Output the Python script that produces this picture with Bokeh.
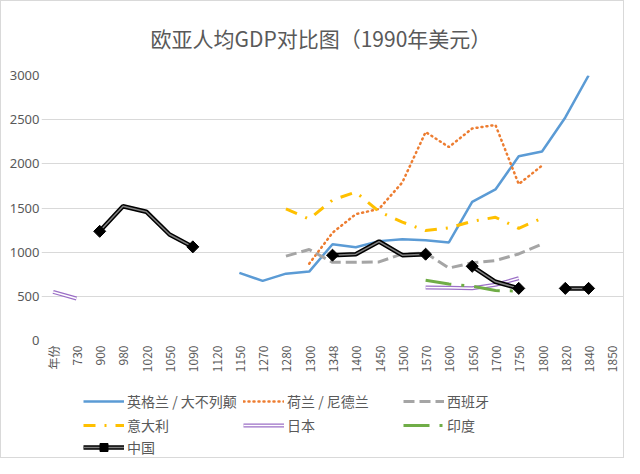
import math
from bokeh.plotting import figure
from bokeh.layouts import column
from bokeh.models import (ColumnDataSource, Legend, LegendItem, FixedTicker,
                          Range1d, FactorRange)
from bokeh.embed import file_html
from bokeh.resources import INLINE

nan = float("nan")

years = ["年份", "730", "900", "980", "1020", "1050", "1090", "1120", "1150",
         "1270", "1280", "1300", "1348", "1400", "1450", "1500", "1570",
         "1600", "1650", "1700", "1750", "1800", "1820", "1840", "1850"]

uk = [nan, nan, nan, nan, nan, nan, nan, nan, 765, 675, 757, 780, 1090, 1055,
      1125, 1145, 1135, 1110, 1570, 1710, 2085, 2140, 2525, 3000, nan]
netherlands = [nan, nan, nan, nan, nan, nan, nan, nan, nan, nan, nan, 870, 1220,
               1430, 1490, 1790, 2360, 2190, 2400, 2440, 1770, 1980, nan, nan, nan]
spain = [nan, nan, nan, nan, nan, nan, nan, nan, nan, nan, 955, 1030, 885, 885,
         890, 980, 990, 820, 880, 905, 980, 1090, nan, nan, nan]
italy = [nan, nan, nan, nan, nan, nan, nan, nan, nan, nan, 1490, 1375, 1590, 1680,
         1460, 1340, 1245, 1275, 1350, 1395, 1270, 1385, nan, nan, nan]
japan = [550, 476, nan, nan, nan, nan, nan, nan, nan, nan, nan, nan, nan, nan,
         nan, nan, 600, 598, 592, 630, 705, nan, nan, nan, nan]
india = [nan, nan, nan, nan, nan, nan, nan, nan, nan, nan, nan, nan, nan, nan,
         nan, nan, 683, 640, 615, 565, 560, nan, nan, nan, nan]
china = [nan, nan, 1236, 1520, 1458, 1200, 1060, nan, nan, nan, nan, nan, 966,
         977, 1120, 966, 977, nan, 840, 665, 590, nan, 590, 590, nan]

y_ticks = [0, 500, 1000, 1500, 2000, 2500, 3000]

names = ["英格兰 / 大不列颠", "荷兰 / 尼德兰", "西班牙", "意大利", "日本", "印度", "中国"]

TXT = "#595959"
CJK = "Noto Sans CJK SC"

STYLES = {
    "uk": dict(line_color="#5b9bd5", line_width=2.5),
    "nl": dict(line_color="#ed7d31", line_width=2.5, line_dash="1 4", line_cap="round"),
    "es": dict(line_color="#a5a5a5", line_width=3, line_dash="11 5"),
    "it": dict(line_color="#ffc000", line_width=3, line_dash="12 9 2 9"),
    "jp1": dict(line_color="#9b6fc6", line_width=4),
    "jp2": dict(line_color="white", line_width=1.5),
    "ind": dict(line_color="#70ad47", line_width=3, line_dash="26 10 3 10"),
    "cn1": dict(line_color="black", line_width=4.5),
    "cn2": dict(line_color="#808080", line_width=1.5),
}
MARK = dict(marker="square", angle=math.pi / 4, size=8.5,
            fill_color="black", line_color="black")

src = ColumnDataSource(dict(x=years, uk=uk, nl=netherlands, es=spain, it=italy,
                            jp=japan, ind=india, cn=china))

p = figure(x_range=FactorRange(*years), y_range=Range1d(0, 3000),
           width=622, height=374, output_backend="svg", toolbar_location=None,
           title="欧亚人均GDP对比图（1990年美元）",
           min_border_top=68, min_border_right=0, min_border_left=40,
           min_border_bottom=35)

p.title.align = "left"
p.title.offset = 109
p.title.vertical_align = "top"
p.title.standoff = 42
p.title.text_font = CJK
p.title.text_font_size = "21px"
p.title.text_font_style = "normal"
p.title.text_color = TXT

p.outline_line_color = None
p.xgrid.grid_line_color = None
p.ygrid.grid_line_color = "#d9d9d9"
p.ygrid.grid_line_width = 1

p.yaxis.ticker = FixedTicker(ticks=y_ticks)
for ax in (p.xaxis[0], p.yaxis[0]):
    ax.axis_line_color = None
    ax.major_tick_line_color = None
    ax.minor_tick_line_color = None
    ax.major_tick_out = 0
    ax.major_tick_in = 0
    ax.minor_tick_out = 0
    ax.major_label_text_color = TXT
p.yaxis.major_label_text_font_size = "13px"
p.yaxis.major_label_text_font = "Noto Sans"
p.yaxis.major_label_standoff = 2
p.xaxis.major_label_text_font_size = "12px"
p.xaxis.major_label_text_font = CJK
p.xaxis.major_label_orientation = math.pi / 2
p.xaxis.major_label_standoff = 5

p.line("x", "uk", source=src, **STYLES["uk"])
p.line("x", "nl", source=src, **STYLES["nl"])
p.line("x", "es", source=src, **STYLES["es"])
p.line("x", "it", source=src, **STYLES["it"])
p.line("x", "jp", source=src, **STYLES["jp1"])
p.line("x", "jp", source=src, **STYLES["jp2"])
p.line("x", "ind", source=src, **STYLES["ind"])
p.line("x", "cn", source=src, **STYLES["cn1"])
p.line("x", "cn", source=src, **STYLES["cn2"])

# China markers at the ends of each continuous run
ends_x, ends_y = [], []
for i, v in enumerate(china):
    if math.isnan(v):
        continue
    prev_gap = i == 0 or math.isnan(china[i - 1])
    next_gap = i == len(china) - 1 or math.isnan(china[i + 1])
    if prev_gap or next_gap:
        ends_x.append(years[i])
        ends_y.append(v)
p.scatter(ends_x, ends_y, **MARK)

# ---- legend panel (separate strip below the chart) ----
lg = figure(width=622, height=82, output_backend="svg", toolbar_location=None,
            x_range=Range1d(0, 1), y_range=Range1d(0, 1),
            x_axis_type=None, y_axis_type=None,
            min_border_left=0, min_border_right=0, min_border_top=0,
            min_border_bottom=0)
lg.outline_line_color = None
lg.xgrid.visible = False
lg.ygrid.visible = False


def dummy(key):
    # legend-only renderer: a single NaN point, nothing visible is drawn
    return lg.line(x=[nan], y=[nan], **STYLES[key])


r_uk, r_nl, r_es, r_it = dummy("uk"), dummy("nl"), dummy("es"), dummy("it")
r_jp1, r_jp2, r_in = dummy("jp1"), dummy("jp2"), dummy("ind")
r_cn1, r_cn2 = dummy("cn1"), dummy("cn2")
r_cnm = lg.scatter(x=[nan], y=[nan], **MARK)

rows = [
    [LegendItem(label=names[0], renderers=[r_uk]),
     LegendItem(label=names[1], renderers=[r_nl]),
     LegendItem(label=names[2], renderers=[r_es])],
    [LegendItem(label=names[3], renderers=[r_it]),
     LegendItem(label=names[4], renderers=[r_jp1, r_jp2]),
     LegendItem(label=names[5], renderers=[r_in])],
    [LegendItem(label=names[6], renderers=[r_cn1, r_cn2, r_cnm])],
]
row_y = [46, 22, 0]
for items, yy in zip(rows, row_y):
    leg = Legend(items=items, orientation="horizontal", location=(42, yy))
    leg.border_line_color = None
    leg.background_fill_alpha = 0
    leg.label_text_font = CJK
    leg.label_text_font_size = "14px"
    leg.label_text_color = TXT
    leg.glyph_width = 41
    leg.glyph_height = 20
    leg.label_height = 20
    leg.label_width = 115
    leg.label_standoff = 3
    leg.spacing = 1
    leg.padding = 0
    leg.margin = 0
    lg.add_layout(leg)

layout = column(p, lg, spacing=0, styles={"border": "1px solid #d9d9d9"})

open("out.html", "w").write(file_html(layout, INLINE))
